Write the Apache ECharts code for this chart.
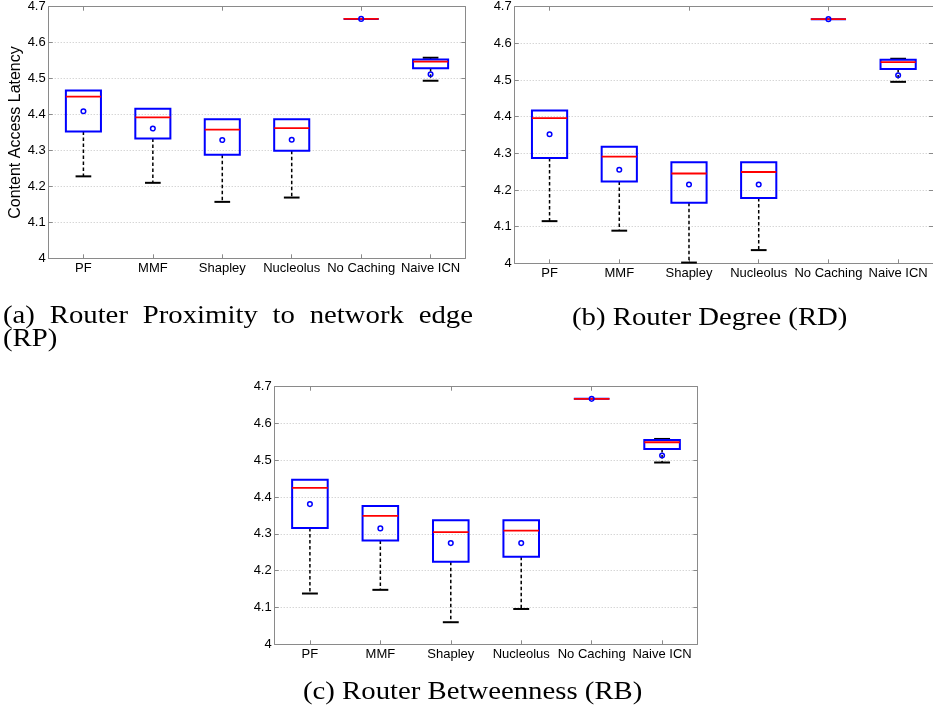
<!DOCTYPE html>
<html>
<head>
<meta charset="utf-8">
<script src="https://cdn.jsdelivr.net/npm/echarts@6/dist/echarts.min.js"></script>
<style>html,body{margin:0;padding:0;background:#fff;}#c{width:933px;height:714px;}</style>
</head>
<body>
<div id="c"></div>
<script>
const categories = ['PF', 'MMF', 'Shapley', 'Nucleolus', 'No Caching', 'Naive ICN'];
const yMin = 4, yMax = 4.7, yInterval = 0.1;
const yAxisTitle = 'Content Access Latency';

// (a) Router Proximity (RP)
const rpLow    = [4.228, 4.210, 4.157, 4.169, 4.666, 4.494];
const rpQ1     = [4.353, 4.333, 4.288, 4.299, 4.666, 4.529];
const rpMedian = [4.450, 4.392, 4.358, 4.362, 4.666, 4.547];
const rpQ3     = [4.467, 4.416, 4.387, 4.387, 4.666, 4.553];
const rpHigh   = [4.467, 4.416, 4.387, 4.387, 4.666, 4.558];
const rpMean   = [4.409, 4.361, 4.329, 4.330, 4.666, 4.512];

// (b) Router Degree (RD)
const rdLow    = [4.115, 4.089, 4.002, 4.036, 4.666, 4.495];
const rdQ1     = [4.287, 4.223, 4.165, 4.178, 4.666, 4.530];
const rdMedian = [4.396, 4.291, 4.245, 4.249, 4.666, 4.549];
const rdQ3     = [4.417, 4.318, 4.276, 4.276, 4.666, 4.555];
const rdHigh   = [4.417, 4.318, 4.276, 4.276, 4.666, 4.558];
const rdMean   = [4.352, 4.255, 4.215, 4.215, 4.666, 4.513];

// (c) Router Betweenness (RB)
const rbLow    = [4.138, 4.148, 4.060, 4.096, 4.667, 4.494];
const rbQ1     = [4.316, 4.282, 4.224, 4.238, 4.667, 4.531];
const rbMedian = [4.425, 4.349, 4.305, 4.309, 4.667, 4.549];
const rbQ3     = [4.447, 4.376, 4.337, 4.337, 4.667, 4.555];
const rbHigh   = [4.447, 4.376, 4.337, 4.337, 4.667, 4.558];
const rbMean   = [4.381, 4.315, 4.275, 4.275, 4.667, 4.513];

const captionA1 = '(a) Router Proximity to network edge';
const captionA2 = '(RP)';
const captionB = '(b) Router Degree (RD)';
const captionC = '(c) Router Betweenness (RB)';

const panels = [
  { grid: { left: 48.7, top: 6.7, right: 467.7, bottom: 455.7 }, stats: [rpLow, rpQ1, rpMedian, rpQ3, rpHigh, rpMean], named: true },
  { grid: { left: 514.7, top: 6.7, right: -3.3, bottom: 450.7 }, stats: [rdLow, rdQ1, rdMedian, rdQ3, rdHigh, rdMean], named: false },
  { grid: { left: 274.7, top: 386.7, right: 235.7, bottom: 69.7 }, stats: [rbLow, rbQ1, rbMedian, rbQ3, rbHigh, rbMean], named: false }
];

const AXIS_GRAY = '#8a8a8a';
const BLUE = '#0000ff', RED = '#ff0000', BLACK = '#000000';
const SANS = 'Liberation Sans, Arial, Helvetica, sans-serif';
const SERIF = 'Liberation Serif, Times New Roman, serif';
const CAP_SIZE = 25, CAP_SCALE = 1.15;

function renderBox(params, api) {
  const i = api.value(0);
  const pLow = api.coord([i, api.value(1)]);
  const pQ1 = api.coord([i, api.value(2)]);
  const pMed = api.coord([i, api.value(3)]);
  const pQ3 = api.coord([i, api.value(4)]);
  const pHigh = api.coord([i, api.value(5)]);
  const pMean = api.coord([i, api.value(6)]);
  const band = api.size([1, 0])[0];
  const bw = band * 0.505, cw = band * 0.226;
  const x = pMed[0];
  const dash = { stroke: BLACK, lineWidth: 1.5, lineDash: [3.5, 2.5] };
  const cap = { stroke: BLACK, lineWidth: 2 };
  const children = [];
  if (Math.abs(pLow[1] - pQ1[1]) > 0.5) {
    children.push({ type: 'line', shape: { x1: x, y1: pQ1[1], x2: x, y2: pLow[1] }, style: dash });
    children.push({ type: 'line', shape: { x1: x - cw / 2, y1: pLow[1], x2: x + cw / 2, y2: pLow[1] }, style: cap });
  }
  if (Math.abs(pHigh[1] - pQ3[1]) > 0.5) {
    children.push({ type: 'line', shape: { x1: x, y1: pQ3[1], x2: x, y2: pHigh[1] }, style: dash });
    children.push({ type: 'line', shape: { x1: x - cw / 2, y1: pHigh[1], x2: x + cw / 2, y2: pHigh[1] }, style: cap });
  }
  children.push({ type: 'rect', shape: { x: x - bw / 2, y: pQ3[1], width: bw, height: pQ1[1] - pQ3[1] }, style: { stroke: BLUE, lineWidth: 2, fill: 'none' } });
  children.push({ type: 'line', shape: { x1: x - bw / 2, y1: pMed[1], x2: x + bw / 2, y2: pMed[1] }, style: { stroke: RED, lineWidth: 1.8 } });
  children.push({ type: 'circle', shape: { cx: pMean[0], cy: pMean[1], r: 2.3 }, style: { stroke: BLUE, lineWidth: 1.5, fill: 'none' } });
  return { type: 'group', children: children };
}

const grids = [], xAxes = [], yAxes = [], series = [];
panels.forEach((p, gi) => {
  grids.push(Object.assign({ show: false, containLabel: false }, p.grid));
  const tick = { show: true, inside: true, length: 4, lineStyle: { color: AXIS_GRAY } };
  const line = { show: true, onZero: false, lineStyle: { color: AXIS_GRAY, width: 1 } };
  xAxes.push({
    type: 'category', gridIndex: gi, data: categories, boundaryGap: true, position: 'bottom',
    axisLine: line, axisTick: Object.assign({ alignWithLabel: true }, tick),
    axisLabel: { color: BLACK, fontFamily: SANS, fontSize: 13, margin: 4, interval: 0 },
    splitLine: { show: false }
  });
  xAxes.push({
    type: 'category', gridIndex: gi, data: categories, boundaryGap: true, position: 'top',
    axisLine: line, axisTick: Object.assign({ alignWithLabel: true }, tick),
    axisLabel: { show: false }, splitLine: { show: false }
  });
  yAxes.push({
    type: 'value', gridIndex: gi, min: yMin, max: yMax, interval: yInterval, position: 'left',
    axisLine: line, axisTick: tick,
    axisLabel: { color: BLACK, fontFamily: SANS, fontSize: 13, margin: 3, formatter: v => String(+v.toFixed(1)) },
    splitLine: { show: true, lineStyle: { color: '#c4c4c4', width: 1, type: [1, 2] } },
    name: p.named ? yAxisTitle : '', nameLocation: 'middle', nameRotate: 90, nameGap: 20,
    nameTextStyle: { color: BLACK, fontFamily: SANS, fontSize: 16 }
  });
  yAxes.push({
    type: 'value', gridIndex: gi, min: yMin, max: yMax, interval: yInterval, position: 'right',
    axisLine: line, axisTick: tick, axisLabel: { show: false }, splitLine: { show: false }
  });
  const s = p.stats;
  series.push({
    type: 'custom', xAxisIndex: gi * 2, yAxisIndex: gi * 2, renderItem: renderBox,
    encode: { x: 0, y: [1, 2, 3, 4, 5, 6] }, clip: false, silent: true,
    data: categories.map((c, i) => [i, s[0][i], s[1][i], s[2][i], s[3][i], s[4][i], s[5][i]])
  });
});

// caption text layout (justified like the LaTeX source)
const measureCtx = document.createElement('canvas').getContext('2d');
measureCtx.font = CAP_SIZE + 'px ' + SERIF;
function textW(t) { return measureCtx.measureText(t).width * CAP_SCALE; }
function textEl(text, x, y) {
  return { type: 'text', x: x, y: y, scaleX: CAP_SCALE, silent: true,
    style: { text: text, x: 0, y: 0, fill: BLACK, fontFamily: SERIF, fontSize: CAP_SIZE, align: 'left', verticalAlign: 'middle' } };
}
function justified(text, x0, x1, y) {
  const words = text.split(' ');
  const widths = words.map(textW);
  const total = widths.reduce((a, b) => a + b, 0);
  const gap = (x1 - x0 - total) / (words.length - 1);
  let x = x0;
  return words.map((w, k) => { const el = textEl(w, x, y); x += widths[k] + gap; return el; });
}
const graphics = []
  .concat(justified(captionA1, 3, 473, 316))
  .concat([textEl(captionA2, 3, 339)])
  .concat([textEl(captionB, 572, 318)])
  .concat([textEl(captionC, 303, 692)]);

const chart = echarts.init(document.getElementById('c'), null, { renderer: 'canvas' });
chart.setOption({
  animation: false,
  backgroundColor: '#ffffff',
  grid: grids, xAxis: xAxes, yAxis: yAxes, series: series,
  graphic: graphics
});
</script>
</body>
</html>
